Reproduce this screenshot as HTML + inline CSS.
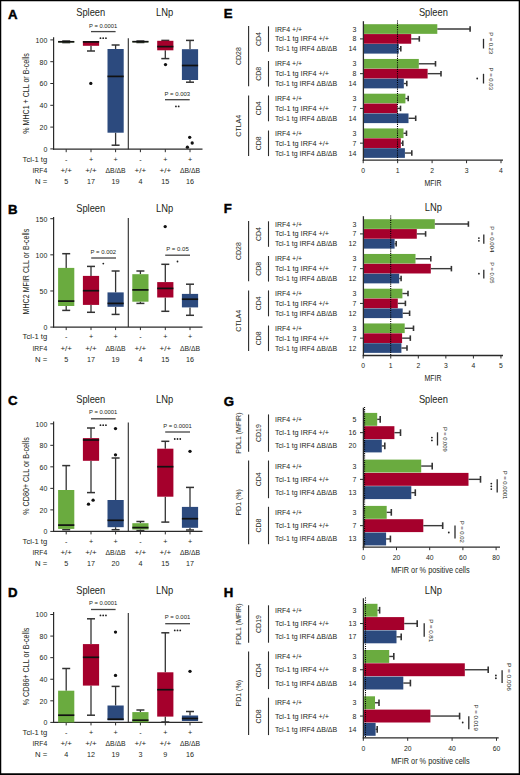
<!DOCTYPE html>
<html><head><meta charset="utf-8"><title>Figure</title>
<style>
html,body{margin:0;padding:0;background:#fff;}
svg{display:block;}
svg text{font-family:"Liberation Sans", sans-serif;}
</style></head>
<body>
<svg width="520" height="775" viewBox="0 0 520 775">
<rect x="0" y="0" width="520" height="775" fill="#fff"/>
<text x="8" y="18.6" font-size="13.2" font-weight="bold" fill="#000" stroke="#000" stroke-width="0.45">A</text>
<text x="90.7" y="16" font-size="10.4" text-anchor="middle" textLength="29" lengthAdjust="spacingAndGlyphs" fill="#231f20">Spleen</text>
<text x="164.6" y="16" font-size="10.4" text-anchor="middle" textLength="17.2" lengthAdjust="spacingAndGlyphs" fill="#231f20">LNp</text>
<line x1="53.6" y1="37.2" x2="53.6" y2="149.7" stroke="#2a2a2a" stroke-width="1.2"/>
<line x1="50.3" y1="148.9" x2="53.6" y2="148.9" stroke="#2a2a2a" stroke-width="1"/>
<text x="47.3" y="151.7" font-size="7" text-anchor="end" fill="#231f20">0</text>
<line x1="50.3" y1="127.1" x2="53.6" y2="127.1" stroke="#2a2a2a" stroke-width="1"/>
<text x="47.3" y="129.9" font-size="7" text-anchor="end" fill="#231f20">20</text>
<line x1="50.3" y1="105.3" x2="53.6" y2="105.3" stroke="#2a2a2a" stroke-width="1"/>
<text x="47.3" y="108.1" font-size="7" text-anchor="end" fill="#231f20">40</text>
<line x1="50.3" y1="83.5" x2="53.6" y2="83.5" stroke="#2a2a2a" stroke-width="1"/>
<text x="47.3" y="86.3" font-size="7" text-anchor="end" fill="#231f20">60</text>
<line x1="50.3" y1="61.7" x2="53.6" y2="61.7" stroke="#2a2a2a" stroke-width="1"/>
<text x="47.3" y="64.5" font-size="7" text-anchor="end" fill="#231f20">80</text>
<line x1="50.3" y1="39.9" x2="53.6" y2="39.9" stroke="#2a2a2a" stroke-width="1"/>
<text x="47.3" y="42.7" font-size="7" text-anchor="end" fill="#231f20">100</text>
<line x1="53" y1="149.2" x2="202.5" y2="149.2" stroke="#2a2a2a" stroke-width="1.2"/>
<line x1="66.2" y1="149.2" x2="66.2" y2="152.2" stroke="#2a2a2a" stroke-width="1"/>
<line x1="91" y1="149.2" x2="91" y2="152.2" stroke="#2a2a2a" stroke-width="1"/>
<line x1="115.6" y1="149.2" x2="115.6" y2="152.2" stroke="#2a2a2a" stroke-width="1"/>
<line x1="140.4" y1="149.2" x2="140.4" y2="152.2" stroke="#2a2a2a" stroke-width="1"/>
<line x1="165.3" y1="149.2" x2="165.3" y2="152.2" stroke="#2a2a2a" stroke-width="1"/>
<line x1="190" y1="149.2" x2="190" y2="152.2" stroke="#2a2a2a" stroke-width="1"/>
<line x1="128.3" y1="38.2" x2="128.3" y2="149.2" stroke="#2a2a2a" stroke-width="1.1"/>
<text x="29.3" y="93.4" font-size="9" text-anchor="middle" textLength="80.6" lengthAdjust="spacingAndGlyphs" fill="#231f20" transform="rotate(-90 29.3 93.4)">% MHC1 + CLL or B-cells</text>
<line x1="66.2" y1="41" x2="66.2" y2="41.3" stroke="#333" stroke-width="1.3"/>
<line x1="62.2" y1="41" x2="70.2" y2="41" stroke="#333" stroke-width="1.5"/>
<line x1="66.2" y1="42.3" x2="66.2" y2="42.6" stroke="#333" stroke-width="1.3"/>
<line x1="62.2" y1="42.6" x2="70.2" y2="42.6" stroke="#333" stroke-width="1.5"/>
<rect x="58.1" y="41.3" width="16.2" height="1" fill="#6aab3f"/>
<line x1="58.1" y1="41.8" x2="74.3" y2="41.8" stroke="#111" stroke-width="1.7"/>
<line x1="91" y1="45.8" x2="91" y2="51" stroke="#333" stroke-width="1.3"/>
<line x1="87" y1="51" x2="95" y2="51" stroke="#333" stroke-width="1.5"/>
<rect x="82.9" y="41" width="16.2" height="4.8" fill="#a5002c"/>
<line x1="82.9" y1="41.9" x2="99.1" y2="41.9" stroke="#111" stroke-width="1.7"/>
<circle cx="90.8" cy="83.4" r="1.65" fill="#111"/>
<line x1="115.6" y1="45" x2="115.6" y2="49" stroke="#333" stroke-width="1.3"/>
<line x1="111.6" y1="45" x2="119.6" y2="45" stroke="#333" stroke-width="1.5"/>
<line x1="115.6" y1="132.7" x2="115.6" y2="145.2" stroke="#333" stroke-width="1.3"/>
<line x1="111.6" y1="145.2" x2="119.6" y2="145.2" stroke="#333" stroke-width="1.5"/>
<rect x="107.5" y="49" width="16.2" height="83.7" fill="#2c4a7e"/>
<line x1="107.5" y1="76.4" x2="123.7" y2="76.4" stroke="#111" stroke-width="1.7"/>
<line x1="140.4" y1="41" x2="140.4" y2="41.2" stroke="#333" stroke-width="1.3"/>
<line x1="136.4" y1="41" x2="144.4" y2="41" stroke="#333" stroke-width="1.5"/>
<line x1="140.4" y1="42.2" x2="140.4" y2="42.5" stroke="#333" stroke-width="1.3"/>
<line x1="136.4" y1="42.5" x2="144.4" y2="42.5" stroke="#333" stroke-width="1.5"/>
<rect x="132.3" y="41.2" width="16.2" height="1" fill="#6aab3f"/>
<line x1="132.3" y1="41.7" x2="148.5" y2="41.7" stroke="#111" stroke-width="1.7"/>
<line x1="165.3" y1="40.4" x2="165.3" y2="40.8" stroke="#333" stroke-width="1.3"/>
<line x1="161.3" y1="40.4" x2="169.3" y2="40.4" stroke="#333" stroke-width="1.5"/>
<line x1="165.3" y1="50.3" x2="165.3" y2="58.6" stroke="#333" stroke-width="1.3"/>
<line x1="161.3" y1="58.6" x2="169.3" y2="58.6" stroke="#333" stroke-width="1.5"/>
<rect x="157.2" y="40.8" width="16.2" height="9.5" fill="#a5002c"/>
<line x1="157.2" y1="46.6" x2="173.4" y2="46.6" stroke="#111" stroke-width="1.7"/>
<circle cx="165.5" cy="64.6" r="1.65" fill="#111"/>
<line x1="190" y1="40.4" x2="190" y2="49.2" stroke="#333" stroke-width="1.3"/>
<line x1="186" y1="40.4" x2="194" y2="40.4" stroke="#333" stroke-width="1.5"/>
<line x1="190" y1="80" x2="190" y2="82.2" stroke="#333" stroke-width="1.3"/>
<line x1="186" y1="82.2" x2="194" y2="82.2" stroke="#333" stroke-width="1.5"/>
<rect x="181.9" y="49.2" width="16.2" height="30.8" fill="#2c4a7e"/>
<line x1="181.9" y1="65.5" x2="198.1" y2="65.5" stroke="#111" stroke-width="1.7"/>
<circle cx="189.7" cy="137.3" r="1.65" fill="#111"/>
<circle cx="192.2" cy="143" r="1.65" fill="#111"/>
<circle cx="187.4" cy="147.2" r="1.65" fill="#111"/>
<text x="103.2" y="27.6" font-size="6" text-anchor="middle" textLength="28.3" lengthAdjust="spacingAndGlyphs" fill="#231f20">P = 0.0001</text>
<line x1="91" y1="31.6" x2="115.6" y2="31.6" stroke="#444" stroke-width="1.3"/>
<circle cx="100.45" cy="38.2" r="0.9" fill="#222"/>
<circle cx="103.2" cy="38.2" r="0.9" fill="#222"/>
<circle cx="105.95" cy="38.2" r="0.9" fill="#222"/>
<text x="177.3" y="95.8" font-size="6" text-anchor="middle" textLength="25.5" lengthAdjust="spacingAndGlyphs" fill="#231f20">P = 0.003</text>
<line x1="165" y1="99.7" x2="189.7" y2="99.7" stroke="#444" stroke-width="1.3"/>
<circle cx="175.93" cy="106.4" r="0.9" fill="#222"/>
<circle cx="178.68" cy="106.4" r="0.9" fill="#222"/>
<text x="47.2" y="161.5" font-size="7.2" text-anchor="end" textLength="24.6" lengthAdjust="spacingAndGlyphs" fill="#231f20">Tcl-1 tg</text>
<text x="47.2" y="172.9" font-size="7.2" text-anchor="end" textLength="14.8" lengthAdjust="spacingAndGlyphs" fill="#231f20">IRF4</text>
<text x="47.2" y="184.1" font-size="7.2" text-anchor="end" textLength="12.3" lengthAdjust="spacingAndGlyphs" fill="#231f20">N =</text>
<text x="66.2" y="161.5" font-size="7.2" text-anchor="middle" fill="#231f20">-</text>
<text x="66.2" y="172.9" font-size="7.2" text-anchor="middle" textLength="11.6" lengthAdjust="spacingAndGlyphs" fill="#231f20">+/+</text>
<text x="66.2" y="184.1" font-size="7.2" text-anchor="middle" fill="#231f20">5</text>
<text x="91" y="161.5" font-size="7.2" text-anchor="middle" fill="#231f20">+</text>
<text x="91" y="172.9" font-size="7.2" text-anchor="middle" textLength="11.6" lengthAdjust="spacingAndGlyphs" fill="#231f20">+/+</text>
<text x="91" y="184.1" font-size="7.2" text-anchor="middle" fill="#231f20">17</text>
<text x="115.6" y="161.5" font-size="7.2" text-anchor="middle" fill="#231f20">+</text>
<text x="115.6" y="172.9" font-size="7.2" text-anchor="middle" textLength="20.1" lengthAdjust="spacingAndGlyphs" fill="#231f20">ΔB/ΔB</text>
<text x="115.6" y="184.1" font-size="7.2" text-anchor="middle" fill="#231f20">19</text>
<text x="140.4" y="161.5" font-size="7.2" text-anchor="middle" fill="#231f20">-</text>
<text x="140.4" y="172.9" font-size="7.2" text-anchor="middle" textLength="11.6" lengthAdjust="spacingAndGlyphs" fill="#231f20">+/+</text>
<text x="140.4" y="184.1" font-size="7.2" text-anchor="middle" fill="#231f20">4</text>
<text x="165.3" y="161.5" font-size="7.2" text-anchor="middle" fill="#231f20">+</text>
<text x="165.3" y="172.9" font-size="7.2" text-anchor="middle" textLength="11.6" lengthAdjust="spacingAndGlyphs" fill="#231f20">+/+</text>
<text x="165.3" y="184.1" font-size="7.2" text-anchor="middle" fill="#231f20">15</text>
<text x="190" y="161.5" font-size="7.2" text-anchor="middle" fill="#231f20">+</text>
<text x="190" y="172.9" font-size="7.2" text-anchor="middle" textLength="20.1" lengthAdjust="spacingAndGlyphs" fill="#231f20">ΔB/ΔB</text>
<text x="190" y="184.1" font-size="7.2" text-anchor="middle" fill="#231f20">16</text>
<text x="8" y="214.1" font-size="13.2" font-weight="bold" fill="#000" stroke="#000" stroke-width="0.45">B</text>
<text x="90.7" y="211.5" font-size="10.4" text-anchor="middle" textLength="29" lengthAdjust="spacingAndGlyphs" fill="#231f20">Spleen</text>
<text x="164.6" y="211.5" font-size="10.4" text-anchor="middle" textLength="17.2" lengthAdjust="spacingAndGlyphs" fill="#231f20">LNp</text>
<line x1="53.6" y1="217" x2="53.6" y2="327.6" stroke="#2a2a2a" stroke-width="1.2"/>
<line x1="50.3" y1="327.1" x2="53.6" y2="327.1" stroke="#2a2a2a" stroke-width="1"/>
<text x="47.3" y="329.9" font-size="7" text-anchor="end" fill="#231f20">0</text>
<line x1="50.3" y1="290.97" x2="53.6" y2="290.97" stroke="#2a2a2a" stroke-width="1"/>
<text x="47.3" y="293.77" font-size="7" text-anchor="end" fill="#231f20">50</text>
<line x1="50.3" y1="254.84" x2="53.6" y2="254.84" stroke="#2a2a2a" stroke-width="1"/>
<text x="47.3" y="257.64" font-size="7" text-anchor="end" fill="#231f20">100</text>
<line x1="50.3" y1="218.71" x2="53.6" y2="218.71" stroke="#2a2a2a" stroke-width="1"/>
<text x="47.3" y="221.51" font-size="7" text-anchor="end" fill="#231f20">150</text>
<line x1="53" y1="327.1" x2="202.5" y2="327.1" stroke="#2a2a2a" stroke-width="1.2"/>
<line x1="66.2" y1="327.1" x2="66.2" y2="330.1" stroke="#2a2a2a" stroke-width="1"/>
<line x1="91" y1="327.1" x2="91" y2="330.1" stroke="#2a2a2a" stroke-width="1"/>
<line x1="115.6" y1="327.1" x2="115.6" y2="330.1" stroke="#2a2a2a" stroke-width="1"/>
<line x1="140.4" y1="327.1" x2="140.4" y2="330.1" stroke="#2a2a2a" stroke-width="1"/>
<line x1="165.3" y1="327.1" x2="165.3" y2="330.1" stroke="#2a2a2a" stroke-width="1"/>
<line x1="190" y1="327.1" x2="190" y2="330.1" stroke="#2a2a2a" stroke-width="1"/>
<line x1="128.3" y1="218" x2="128.3" y2="327.1" stroke="#2a2a2a" stroke-width="1.1"/>
<text x="29.3" y="271.6" font-size="9" text-anchor="middle" textLength="85.6" lengthAdjust="spacingAndGlyphs" fill="#231f20" transform="rotate(-90 29.3 271.6)">MHC2 MFIR CLL or B-cells</text>
<line x1="66.2" y1="253.7" x2="66.2" y2="267.9" stroke="#333" stroke-width="1.3"/>
<line x1="62.2" y1="253.7" x2="70.2" y2="253.7" stroke="#333" stroke-width="1.5"/>
<line x1="66.2" y1="306" x2="66.2" y2="310.4" stroke="#333" stroke-width="1.3"/>
<line x1="62.2" y1="310.4" x2="70.2" y2="310.4" stroke="#333" stroke-width="1.5"/>
<rect x="58.1" y="267.9" width="16.2" height="38.1" fill="#6aab3f"/>
<line x1="58.1" y1="301.1" x2="74.3" y2="301.1" stroke="#111" stroke-width="1.7"/>
<line x1="91" y1="266.4" x2="91" y2="275.9" stroke="#333" stroke-width="1.3"/>
<line x1="87" y1="266.4" x2="95" y2="266.4" stroke="#333" stroke-width="1.5"/>
<line x1="91" y1="304.9" x2="91" y2="312.3" stroke="#333" stroke-width="1.3"/>
<line x1="87" y1="312.3" x2="95" y2="312.3" stroke="#333" stroke-width="1.5"/>
<rect x="82.9" y="275.9" width="16.2" height="29" fill="#a5002c"/>
<line x1="82.9" y1="290.7" x2="99.1" y2="290.7" stroke="#111" stroke-width="1.7"/>
<line x1="115.6" y1="271" x2="115.6" y2="292.4" stroke="#333" stroke-width="1.3"/>
<line x1="111.6" y1="271" x2="119.6" y2="271" stroke="#333" stroke-width="1.5"/>
<line x1="115.6" y1="306.8" x2="115.6" y2="314.4" stroke="#333" stroke-width="1.3"/>
<line x1="111.6" y1="314.4" x2="119.6" y2="314.4" stroke="#333" stroke-width="1.5"/>
<rect x="107.5" y="292.4" width="16.2" height="14.4" fill="#2c4a7e"/>
<line x1="107.5" y1="303.4" x2="123.7" y2="303.4" stroke="#111" stroke-width="1.7"/>
<line x1="140.4" y1="271" x2="140.4" y2="274.2" stroke="#333" stroke-width="1.3"/>
<line x1="136.4" y1="271" x2="144.4" y2="271" stroke="#333" stroke-width="1.5"/>
<line x1="140.4" y1="301.7" x2="140.4" y2="303.4" stroke="#333" stroke-width="1.3"/>
<line x1="136.4" y1="303.4" x2="144.4" y2="303.4" stroke="#333" stroke-width="1.5"/>
<rect x="132.3" y="274.2" width="16.2" height="27.5" fill="#6aab3f"/>
<line x1="132.3" y1="289.9" x2="148.5" y2="289.9" stroke="#111" stroke-width="1.7"/>
<line x1="165.3" y1="264.3" x2="165.3" y2="282.1" stroke="#333" stroke-width="1.3"/>
<line x1="161.3" y1="264.3" x2="169.3" y2="264.3" stroke="#333" stroke-width="1.5"/>
<line x1="165.3" y1="297.5" x2="165.3" y2="311.3" stroke="#333" stroke-width="1.3"/>
<line x1="161.3" y1="311.3" x2="169.3" y2="311.3" stroke="#333" stroke-width="1.5"/>
<rect x="157.2" y="282.1" width="16.2" height="15.4" fill="#a5002c"/>
<line x1="157.2" y1="288.4" x2="173.4" y2="288.4" stroke="#111" stroke-width="1.7"/>
<circle cx="165.2" cy="226.6" r="1.65" fill="#111"/>
<line x1="190" y1="284.2" x2="190" y2="293.9" stroke="#333" stroke-width="1.3"/>
<line x1="186" y1="284.2" x2="194" y2="284.2" stroke="#333" stroke-width="1.5"/>
<line x1="190" y1="307.4" x2="190" y2="315.3" stroke="#333" stroke-width="1.3"/>
<line x1="186" y1="315.3" x2="194" y2="315.3" stroke="#333" stroke-width="1.5"/>
<rect x="181.9" y="293.9" width="16.2" height="13.5" fill="#2c4a7e"/>
<line x1="181.9" y1="299.2" x2="198.1" y2="299.2" stroke="#111" stroke-width="1.7"/>
<text x="103.3" y="253.5" font-size="6" text-anchor="middle" textLength="25.5" lengthAdjust="spacingAndGlyphs" fill="#231f20">P = 0.002</text>
<line x1="91.2" y1="258" x2="116" y2="258" stroke="#444" stroke-width="1.3"/>
<circle cx="103.3" cy="263.6" r="0.9" fill="#222"/>
<text x="177.5" y="251" font-size="6" text-anchor="middle" textLength="22.5" lengthAdjust="spacingAndGlyphs" fill="#231f20">P = 0.05</text>
<line x1="165.2" y1="255.2" x2="190" y2="255.2" stroke="#444" stroke-width="1.3"/>
<circle cx="177.5" cy="261.5" r="0.9" fill="#222"/>
<text x="47.2" y="339.4" font-size="7.2" text-anchor="end" textLength="24.6" lengthAdjust="spacingAndGlyphs" fill="#231f20">Tcl-1 tg</text>
<text x="47.2" y="350.8" font-size="7.2" text-anchor="end" textLength="14.8" lengthAdjust="spacingAndGlyphs" fill="#231f20">IRF4</text>
<text x="47.2" y="362" font-size="7.2" text-anchor="end" textLength="12.3" lengthAdjust="spacingAndGlyphs" fill="#231f20">N =</text>
<text x="66.2" y="339.4" font-size="7.2" text-anchor="middle" fill="#231f20">-</text>
<text x="66.2" y="350.8" font-size="7.2" text-anchor="middle" textLength="11.6" lengthAdjust="spacingAndGlyphs" fill="#231f20">+/+</text>
<text x="66.2" y="362" font-size="7.2" text-anchor="middle" fill="#231f20">5</text>
<text x="91" y="339.4" font-size="7.2" text-anchor="middle" fill="#231f20">+</text>
<text x="91" y="350.8" font-size="7.2" text-anchor="middle" textLength="11.6" lengthAdjust="spacingAndGlyphs" fill="#231f20">+/+</text>
<text x="91" y="362" font-size="7.2" text-anchor="middle" fill="#231f20">17</text>
<text x="115.6" y="339.4" font-size="7.2" text-anchor="middle" fill="#231f20">+</text>
<text x="115.6" y="350.8" font-size="7.2" text-anchor="middle" textLength="20.1" lengthAdjust="spacingAndGlyphs" fill="#231f20">ΔB/ΔB</text>
<text x="115.6" y="362" font-size="7.2" text-anchor="middle" fill="#231f20">19</text>
<text x="140.4" y="339.4" font-size="7.2" text-anchor="middle" fill="#231f20">-</text>
<text x="140.4" y="350.8" font-size="7.2" text-anchor="middle" textLength="11.6" lengthAdjust="spacingAndGlyphs" fill="#231f20">+/+</text>
<text x="140.4" y="362" font-size="7.2" text-anchor="middle" fill="#231f20">4</text>
<text x="165.3" y="339.4" font-size="7.2" text-anchor="middle" fill="#231f20">+</text>
<text x="165.3" y="350.8" font-size="7.2" text-anchor="middle" textLength="11.6" lengthAdjust="spacingAndGlyphs" fill="#231f20">+/+</text>
<text x="165.3" y="362" font-size="7.2" text-anchor="middle" fill="#231f20">15</text>
<text x="190" y="339.4" font-size="7.2" text-anchor="middle" fill="#231f20">+</text>
<text x="190" y="350.8" font-size="7.2" text-anchor="middle" textLength="20.1" lengthAdjust="spacingAndGlyphs" fill="#231f20">ΔB/ΔB</text>
<text x="190" y="362" font-size="7.2" text-anchor="middle" fill="#231f20">16</text>
<text x="8" y="405.35" font-size="13.2" font-weight="bold" fill="#000" stroke="#000" stroke-width="0.45">C</text>
<text x="90.7" y="402.75" font-size="10.4" text-anchor="middle" textLength="29" lengthAdjust="spacingAndGlyphs" fill="#231f20">Spleen</text>
<text x="164.6" y="402.75" font-size="10.4" text-anchor="middle" textLength="17.2" lengthAdjust="spacingAndGlyphs" fill="#231f20">LNp</text>
<line x1="53.6" y1="421.5" x2="53.6" y2="531.9" stroke="#2a2a2a" stroke-width="1.2"/>
<line x1="50.3" y1="531.4" x2="53.6" y2="531.4" stroke="#2a2a2a" stroke-width="1"/>
<text x="47.3" y="534.2" font-size="7" text-anchor="end" fill="#231f20">0</text>
<line x1="50.3" y1="509.88" x2="53.6" y2="509.88" stroke="#2a2a2a" stroke-width="1"/>
<text x="47.3" y="512.68" font-size="7" text-anchor="end" fill="#231f20">20</text>
<line x1="50.3" y1="488.36" x2="53.6" y2="488.36" stroke="#2a2a2a" stroke-width="1"/>
<text x="47.3" y="491.16" font-size="7" text-anchor="end" fill="#231f20">40</text>
<line x1="50.3" y1="466.84" x2="53.6" y2="466.84" stroke="#2a2a2a" stroke-width="1"/>
<text x="47.3" y="469.64" font-size="7" text-anchor="end" fill="#231f20">60</text>
<line x1="50.3" y1="445.32" x2="53.6" y2="445.32" stroke="#2a2a2a" stroke-width="1"/>
<text x="47.3" y="448.12" font-size="7" text-anchor="end" fill="#231f20">80</text>
<line x1="50.3" y1="423.8" x2="53.6" y2="423.8" stroke="#2a2a2a" stroke-width="1"/>
<text x="47.3" y="426.6" font-size="7" text-anchor="end" fill="#231f20">100</text>
<line x1="53" y1="531.4" x2="202.5" y2="531.4" stroke="#2a2a2a" stroke-width="1.2"/>
<line x1="66.2" y1="531.4" x2="66.2" y2="534.4" stroke="#2a2a2a" stroke-width="1"/>
<line x1="91" y1="531.4" x2="91" y2="534.4" stroke="#2a2a2a" stroke-width="1"/>
<line x1="115.6" y1="531.4" x2="115.6" y2="534.4" stroke="#2a2a2a" stroke-width="1"/>
<line x1="140.4" y1="531.4" x2="140.4" y2="534.4" stroke="#2a2a2a" stroke-width="1"/>
<line x1="165.3" y1="531.4" x2="165.3" y2="534.4" stroke="#2a2a2a" stroke-width="1"/>
<line x1="190" y1="531.4" x2="190" y2="534.4" stroke="#2a2a2a" stroke-width="1"/>
<line x1="128.3" y1="422.5" x2="128.3" y2="531.4" stroke="#2a2a2a" stroke-width="1.1"/>
<text x="29.3" y="476" font-size="9" text-anchor="middle" textLength="77.5" lengthAdjust="spacingAndGlyphs" fill="#231f20" transform="rotate(-90 29.3 476)">% CD80+ CLL or B-cells</text>
<line x1="66.2" y1="465.6" x2="66.2" y2="490" stroke="#333" stroke-width="1.3"/>
<line x1="62.2" y1="465.6" x2="70.2" y2="465.6" stroke="#333" stroke-width="1.5"/>
<line x1="66.2" y1="528.9" x2="66.2" y2="529.7" stroke="#333" stroke-width="1.3"/>
<line x1="62.2" y1="529.7" x2="70.2" y2="529.7" stroke="#333" stroke-width="1.5"/>
<rect x="58.1" y="490" width="16.2" height="38.9" fill="#6aab3f"/>
<line x1="58.1" y1="525.1" x2="74.3" y2="525.1" stroke="#111" stroke-width="1.7"/>
<line x1="91" y1="428" x2="91" y2="438.1" stroke="#333" stroke-width="1.3"/>
<line x1="87" y1="428" x2="95" y2="428" stroke="#333" stroke-width="1.5"/>
<line x1="91" y1="460.8" x2="91" y2="492.6" stroke="#333" stroke-width="1.3"/>
<line x1="87" y1="492.6" x2="95" y2="492.6" stroke="#333" stroke-width="1.5"/>
<rect x="82.9" y="438.1" width="16.2" height="22.7" fill="#a5002c"/>
<line x1="82.9" y1="440" x2="99.1" y2="440" stroke="#111" stroke-width="1.7"/>
<circle cx="88.5" cy="504.2" r="1.65" fill="#111"/>
<circle cx="93.1" cy="500.2" r="1.65" fill="#111"/>
<line x1="115.6" y1="458" x2="115.6" y2="500" stroke="#333" stroke-width="1.3"/>
<line x1="111.6" y1="458" x2="119.6" y2="458" stroke="#333" stroke-width="1.5"/>
<line x1="115.6" y1="527.2" x2="115.6" y2="529.7" stroke="#333" stroke-width="1.3"/>
<line x1="111.6" y1="529.7" x2="119.6" y2="529.7" stroke="#333" stroke-width="1.5"/>
<rect x="107.5" y="500" width="16.2" height="27.2" fill="#2c4a7e"/>
<line x1="107.5" y1="520.3" x2="123.7" y2="520.3" stroke="#111" stroke-width="1.7"/>
<circle cx="115.5" cy="428.6" r="1.65" fill="#111"/>
<circle cx="115.5" cy="454.8" r="1.65" fill="#111"/>
<line x1="140.4" y1="521.5" x2="140.4" y2="523.2" stroke="#333" stroke-width="1.3"/>
<line x1="136.4" y1="521.5" x2="144.4" y2="521.5" stroke="#333" stroke-width="1.5"/>
<line x1="140.4" y1="529.5" x2="140.4" y2="530.5" stroke="#333" stroke-width="1.3"/>
<line x1="136.4" y1="530.5" x2="144.4" y2="530.5" stroke="#333" stroke-width="1.5"/>
<rect x="132.3" y="523.2" width="16.2" height="6.3" fill="#6aab3f"/>
<line x1="132.3" y1="527.6" x2="148.5" y2="527.6" stroke="#111" stroke-width="1.7"/>
<line x1="165.3" y1="441.3" x2="165.3" y2="448.7" stroke="#333" stroke-width="1.3"/>
<line x1="161.3" y1="441.3" x2="169.3" y2="441.3" stroke="#333" stroke-width="1.5"/>
<line x1="165.3" y1="496.7" x2="165.3" y2="522.1" stroke="#333" stroke-width="1.3"/>
<line x1="161.3" y1="522.1" x2="169.3" y2="522.1" stroke="#333" stroke-width="1.5"/>
<rect x="157.2" y="448.7" width="16.2" height="48" fill="#a5002c"/>
<line x1="157.2" y1="466.7" x2="173.4" y2="466.7" stroke="#111" stroke-width="1.7"/>
<line x1="190" y1="487.4" x2="190" y2="506.9" stroke="#333" stroke-width="1.3"/>
<line x1="186" y1="487.4" x2="194" y2="487.4" stroke="#333" stroke-width="1.5"/>
<line x1="190" y1="527.8" x2="190" y2="530" stroke="#333" stroke-width="1.3"/>
<line x1="186" y1="530" x2="194" y2="530" stroke="#333" stroke-width="1.5"/>
<rect x="181.9" y="506.9" width="16.2" height="20.9" fill="#2c4a7e"/>
<line x1="181.9" y1="518.7" x2="198.1" y2="518.7" stroke="#111" stroke-width="1.7"/>
<circle cx="190" cy="451.3" r="1.65" fill="#111"/>
<text x="103.2" y="414.1" font-size="6" text-anchor="middle" textLength="28.3" lengthAdjust="spacingAndGlyphs" fill="#231f20">P = 0.0001</text>
<line x1="91" y1="418.8" x2="115.6" y2="418.8" stroke="#444" stroke-width="1.3"/>
<circle cx="100.45" cy="425.2" r="0.9" fill="#222"/>
<circle cx="103.2" cy="425.2" r="0.9" fill="#222"/>
<circle cx="105.95" cy="425.2" r="0.9" fill="#222"/>
<text x="177.5" y="427.8" font-size="6" text-anchor="middle" textLength="28.3" lengthAdjust="spacingAndGlyphs" fill="#231f20">P = 0.0001</text>
<line x1="165.2" y1="432" x2="190" y2="432" stroke="#444" stroke-width="1.3"/>
<circle cx="174.75" cy="439" r="0.9" fill="#222"/>
<circle cx="177.5" cy="439" r="0.9" fill="#222"/>
<circle cx="180.25" cy="439" r="0.9" fill="#222"/>
<text x="47.2" y="543.7" font-size="7.2" text-anchor="end" textLength="24.6" lengthAdjust="spacingAndGlyphs" fill="#231f20">Tcl-1 tg</text>
<text x="47.2" y="555.1" font-size="7.2" text-anchor="end" textLength="14.8" lengthAdjust="spacingAndGlyphs" fill="#231f20">IRF4</text>
<text x="47.2" y="566.3" font-size="7.2" text-anchor="end" textLength="12.3" lengthAdjust="spacingAndGlyphs" fill="#231f20">N =</text>
<text x="66.2" y="543.7" font-size="7.2" text-anchor="middle" fill="#231f20">-</text>
<text x="66.2" y="555.1" font-size="7.2" text-anchor="middle" textLength="11.6" lengthAdjust="spacingAndGlyphs" fill="#231f20">+/+</text>
<text x="66.2" y="566.3" font-size="7.2" text-anchor="middle" fill="#231f20">5</text>
<text x="91" y="543.7" font-size="7.2" text-anchor="middle" fill="#231f20">+</text>
<text x="91" y="555.1" font-size="7.2" text-anchor="middle" textLength="11.6" lengthAdjust="spacingAndGlyphs" fill="#231f20">+/+</text>
<text x="91" y="566.3" font-size="7.2" text-anchor="middle" fill="#231f20">17</text>
<text x="115.6" y="543.7" font-size="7.2" text-anchor="middle" fill="#231f20">+</text>
<text x="115.6" y="555.1" font-size="7.2" text-anchor="middle" textLength="20.1" lengthAdjust="spacingAndGlyphs" fill="#231f20">ΔB/ΔB</text>
<text x="115.6" y="566.3" font-size="7.2" text-anchor="middle" fill="#231f20">20</text>
<text x="140.4" y="543.7" font-size="7.2" text-anchor="middle" fill="#231f20">-</text>
<text x="140.4" y="555.1" font-size="7.2" text-anchor="middle" textLength="11.6" lengthAdjust="spacingAndGlyphs" fill="#231f20">+/+</text>
<text x="140.4" y="566.3" font-size="7.2" text-anchor="middle" fill="#231f20">4</text>
<text x="165.3" y="543.7" font-size="7.2" text-anchor="middle" fill="#231f20">+</text>
<text x="165.3" y="555.1" font-size="7.2" text-anchor="middle" textLength="11.6" lengthAdjust="spacingAndGlyphs" fill="#231f20">+/+</text>
<text x="165.3" y="566.3" font-size="7.2" text-anchor="middle" fill="#231f20">15</text>
<text x="190" y="543.7" font-size="7.2" text-anchor="middle" fill="#231f20">+</text>
<text x="190" y="555.1" font-size="7.2" text-anchor="middle" textLength="20.1" lengthAdjust="spacingAndGlyphs" fill="#231f20">ΔB/ΔB</text>
<text x="190" y="566.3" font-size="7.2" text-anchor="middle" fill="#231f20">17</text>
<text x="8" y="596.6" font-size="13.2" font-weight="bold" fill="#000" stroke="#000" stroke-width="0.45">D</text>
<text x="90.7" y="594" font-size="10.4" text-anchor="middle" textLength="29" lengthAdjust="spacingAndGlyphs" fill="#231f20">Spleen</text>
<text x="164.6" y="594" font-size="10.4" text-anchor="middle" textLength="17.2" lengthAdjust="spacingAndGlyphs" fill="#231f20">LNp</text>
<line x1="53.6" y1="612" x2="53.6" y2="722.9" stroke="#2a2a2a" stroke-width="1.2"/>
<line x1="50.3" y1="722.4" x2="53.6" y2="722.4" stroke="#2a2a2a" stroke-width="1"/>
<text x="47.3" y="725.2" font-size="7" text-anchor="end" fill="#231f20">0</text>
<line x1="50.3" y1="700.82" x2="53.6" y2="700.82" stroke="#2a2a2a" stroke-width="1"/>
<text x="47.3" y="703.62" font-size="7" text-anchor="end" fill="#231f20">20</text>
<line x1="50.3" y1="679.24" x2="53.6" y2="679.24" stroke="#2a2a2a" stroke-width="1"/>
<text x="47.3" y="682.04" font-size="7" text-anchor="end" fill="#231f20">40</text>
<line x1="50.3" y1="657.66" x2="53.6" y2="657.66" stroke="#2a2a2a" stroke-width="1"/>
<text x="47.3" y="660.46" font-size="7" text-anchor="end" fill="#231f20">60</text>
<line x1="50.3" y1="636.08" x2="53.6" y2="636.08" stroke="#2a2a2a" stroke-width="1"/>
<text x="47.3" y="638.88" font-size="7" text-anchor="end" fill="#231f20">80</text>
<line x1="50.3" y1="614.5" x2="53.6" y2="614.5" stroke="#2a2a2a" stroke-width="1"/>
<text x="47.3" y="617.3" font-size="7" text-anchor="end" fill="#231f20">100</text>
<line x1="53" y1="722.4" x2="202.5" y2="722.4" stroke="#2a2a2a" stroke-width="1.2"/>
<line x1="66.2" y1="722.4" x2="66.2" y2="725.4" stroke="#2a2a2a" stroke-width="1"/>
<line x1="91" y1="722.4" x2="91" y2="725.4" stroke="#2a2a2a" stroke-width="1"/>
<line x1="115.6" y1="722.4" x2="115.6" y2="725.4" stroke="#2a2a2a" stroke-width="1"/>
<line x1="140.4" y1="722.4" x2="140.4" y2="725.4" stroke="#2a2a2a" stroke-width="1"/>
<line x1="165.3" y1="722.4" x2="165.3" y2="725.4" stroke="#2a2a2a" stroke-width="1"/>
<line x1="190" y1="722.4" x2="190" y2="725.4" stroke="#2a2a2a" stroke-width="1"/>
<line x1="128.3" y1="613" x2="128.3" y2="722.4" stroke="#2a2a2a" stroke-width="1.1"/>
<text x="29.3" y="666.5" font-size="9" text-anchor="middle" textLength="77.7" lengthAdjust="spacingAndGlyphs" fill="#231f20" transform="rotate(-90 29.3 666.5)">% CD86+ CLL or B-cells</text>
<line x1="66.2" y1="668.5" x2="66.2" y2="690.7" stroke="#333" stroke-width="1.3"/>
<line x1="62.2" y1="668.5" x2="70.2" y2="668.5" stroke="#333" stroke-width="1.5"/>
<rect x="58.1" y="690.7" width="16.2" height="31.7" fill="#6aab3f"/>
<line x1="58.1" y1="715.2" x2="74.3" y2="715.2" stroke="#111" stroke-width="1.7"/>
<line x1="91" y1="618.8" x2="91" y2="644.1" stroke="#333" stroke-width="1.3"/>
<line x1="87" y1="618.8" x2="95" y2="618.8" stroke="#333" stroke-width="1.5"/>
<line x1="91" y1="685.6" x2="91" y2="715.2" stroke="#333" stroke-width="1.3"/>
<line x1="87" y1="715.2" x2="95" y2="715.2" stroke="#333" stroke-width="1.5"/>
<rect x="82.9" y="644.1" width="16.2" height="41.5" fill="#a5002c"/>
<line x1="82.9" y1="657.3" x2="99.1" y2="657.3" stroke="#111" stroke-width="1.7"/>
<line x1="115.6" y1="686.4" x2="115.6" y2="705.5" stroke="#333" stroke-width="1.3"/>
<line x1="111.6" y1="686.4" x2="119.6" y2="686.4" stroke="#333" stroke-width="1.5"/>
<rect x="107.5" y="705.5" width="16.2" height="14.8" fill="#2c4a7e"/>
<line x1="107.5" y1="719.2" x2="123.7" y2="719.2" stroke="#111" stroke-width="1.7"/>
<circle cx="115.5" cy="632.1" r="1.65" fill="#111"/>
<circle cx="115.5" cy="675.4" r="1.65" fill="#111"/>
<line x1="140.4" y1="710" x2="140.4" y2="712.1" stroke="#333" stroke-width="1.3"/>
<line x1="136.4" y1="710" x2="144.4" y2="710" stroke="#333" stroke-width="1.5"/>
<rect x="132.3" y="712.1" width="16.2" height="10.3" fill="#6aab3f"/>
<line x1="132.3" y1="720.2" x2="148.5" y2="720.2" stroke="#111" stroke-width="1.7"/>
<line x1="165.3" y1="632.8" x2="165.3" y2="672.3" stroke="#333" stroke-width="1.3"/>
<line x1="161.3" y1="632.8" x2="169.3" y2="632.8" stroke="#333" stroke-width="1.5"/>
<line x1="165.3" y1="716.6" x2="165.3" y2="722" stroke="#333" stroke-width="1.3"/>
<line x1="161.3" y1="722" x2="169.3" y2="722" stroke="#333" stroke-width="1.5"/>
<rect x="157.2" y="672.3" width="16.2" height="44.3" fill="#a5002c"/>
<line x1="157.2" y1="689.7" x2="173.4" y2="689.7" stroke="#111" stroke-width="1.7"/>
<line x1="190" y1="711.5" x2="190" y2="715.5" stroke="#333" stroke-width="1.3"/>
<line x1="186" y1="711.5" x2="194" y2="711.5" stroke="#333" stroke-width="1.5"/>
<rect x="181.9" y="715.5" width="16.2" height="5.5" fill="#2c4a7e"/>
<line x1="181.9" y1="718.5" x2="198.1" y2="718.5" stroke="#111" stroke-width="1.7"/>
<circle cx="190" cy="671.3" r="1.65" fill="#111"/>
<text x="103.2" y="605" font-size="6" text-anchor="middle" textLength="28.3" lengthAdjust="spacingAndGlyphs" fill="#231f20">P = 0.0001</text>
<line x1="91" y1="609.5" x2="115.6" y2="609.5" stroke="#444" stroke-width="1.3"/>
<circle cx="100.45" cy="615.4" r="0.9" fill="#222"/>
<circle cx="103.2" cy="615.4" r="0.9" fill="#222"/>
<circle cx="105.95" cy="615.4" r="0.9" fill="#222"/>
<text x="177.5" y="619.1" font-size="6" text-anchor="middle" textLength="25.5" lengthAdjust="spacingAndGlyphs" fill="#231f20">P = 0.001</text>
<line x1="165.2" y1="623.7" x2="190" y2="623.7" stroke="#444" stroke-width="1.3"/>
<circle cx="174.75" cy="630.4" r="0.9" fill="#222"/>
<circle cx="177.5" cy="630.4" r="0.9" fill="#222"/>
<circle cx="180.25" cy="630.4" r="0.9" fill="#222"/>
<text x="47.2" y="734.7" font-size="7.2" text-anchor="end" textLength="24.6" lengthAdjust="spacingAndGlyphs" fill="#231f20">Tcl-1 tg</text>
<text x="47.2" y="746.1" font-size="7.2" text-anchor="end" textLength="14.8" lengthAdjust="spacingAndGlyphs" fill="#231f20">IRF4</text>
<text x="47.2" y="757.3" font-size="7.2" text-anchor="end" textLength="12.3" lengthAdjust="spacingAndGlyphs" fill="#231f20">N =</text>
<text x="66.2" y="734.7" font-size="7.2" text-anchor="middle" fill="#231f20">-</text>
<text x="66.2" y="746.1" font-size="7.2" text-anchor="middle" textLength="11.6" lengthAdjust="spacingAndGlyphs" fill="#231f20">+/+</text>
<text x="66.2" y="757.3" font-size="7.2" text-anchor="middle" fill="#231f20">4</text>
<text x="91" y="734.7" font-size="7.2" text-anchor="middle" fill="#231f20">+</text>
<text x="91" y="746.1" font-size="7.2" text-anchor="middle" textLength="11.6" lengthAdjust="spacingAndGlyphs" fill="#231f20">+/+</text>
<text x="91" y="757.3" font-size="7.2" text-anchor="middle" fill="#231f20">12</text>
<text x="115.6" y="734.7" font-size="7.2" text-anchor="middle" fill="#231f20">+</text>
<text x="115.6" y="746.1" font-size="7.2" text-anchor="middle" textLength="20.1" lengthAdjust="spacingAndGlyphs" fill="#231f20">ΔB/ΔB</text>
<text x="115.6" y="757.3" font-size="7.2" text-anchor="middle" fill="#231f20">19</text>
<text x="140.4" y="734.7" font-size="7.2" text-anchor="middle" fill="#231f20">-</text>
<text x="140.4" y="746.1" font-size="7.2" text-anchor="middle" textLength="11.6" lengthAdjust="spacingAndGlyphs" fill="#231f20">+/+</text>
<text x="140.4" y="757.3" font-size="7.2" text-anchor="middle" fill="#231f20">3</text>
<text x="165.3" y="734.7" font-size="7.2" text-anchor="middle" fill="#231f20">+</text>
<text x="165.3" y="746.1" font-size="7.2" text-anchor="middle" textLength="11.6" lengthAdjust="spacingAndGlyphs" fill="#231f20">+/+</text>
<text x="165.3" y="757.3" font-size="7.2" text-anchor="middle" fill="#231f20">9</text>
<text x="190" y="734.7" font-size="7.2" text-anchor="middle" fill="#231f20">+</text>
<text x="190" y="746.1" font-size="7.2" text-anchor="middle" textLength="20.1" lengthAdjust="spacingAndGlyphs" fill="#231f20">ΔB/ΔB</text>
<text x="190" y="757.3" font-size="7.2" text-anchor="middle" fill="#231f20">16</text>
<text x="223.8" y="18.4" font-size="13.2" font-weight="bold" fill="#000" stroke="#000" stroke-width="0.45">E</text>
<text x="433.4" y="15.8" font-size="10.4" text-anchor="middle" textLength="29" lengthAdjust="spacingAndGlyphs" fill="#231f20">Spleen</text>
<rect x="363.4" y="24.2" width="73.9" height="9.65" fill="#6aab3f"/>
<line x1="437.3" y1="29.02" x2="470.1" y2="29.02" stroke="#3a3a3a" stroke-width="1.4"/>
<line x1="470.1" y1="26.27" x2="470.1" y2="31.77" stroke="#333" stroke-width="1.6"/>
<text x="275" y="31.52" font-size="6.9" textLength="27.2" lengthAdjust="spacingAndGlyphs" fill="#231f20">IRF4 +/+</text>
<text x="356.3" y="31.52" font-size="7" text-anchor="end" fill="#231f20">3</text>
<rect x="363.4" y="34.08" width="47.8" height="9.65" fill="#a5002c"/>
<line x1="411.2" y1="38.91" x2="419.3" y2="38.91" stroke="#3a3a3a" stroke-width="1.4"/>
<line x1="419.3" y1="36.16" x2="419.3" y2="41.66" stroke="#333" stroke-width="1.6"/>
<text x="275" y="41.41" font-size="6.9" textLength="54.1" lengthAdjust="spacingAndGlyphs" fill="#231f20">Tcl-1 tg IRF4 +/+</text>
<text x="356.3" y="41.41" font-size="7" text-anchor="end" fill="#231f20">8</text>
<rect x="363.4" y="43.96" width="35.4" height="9.65" fill="#2c4a7e"/>
<line x1="398.8" y1="48.79" x2="400.8" y2="48.79" stroke="#3a3a3a" stroke-width="1.4"/>
<line x1="400.8" y1="46.04" x2="400.8" y2="51.54" stroke="#333" stroke-width="1.6"/>
<text x="275" y="51.29" font-size="6.9" textLength="62.2" lengthAdjust="spacingAndGlyphs" fill="#231f20">Tcl-1 tg IRF4 ΔB/ΔB</text>
<text x="356.3" y="51.29" font-size="7" text-anchor="end" fill="#231f20">14</text>
<line x1="360" y1="38.91" x2="363.4" y2="38.91" stroke="#2a2a2a" stroke-width="1"/>
<rect x="363.4" y="58.95" width="55.4" height="9.65" fill="#6aab3f"/>
<line x1="418.8" y1="63.78" x2="435.5" y2="63.78" stroke="#3a3a3a" stroke-width="1.4"/>
<line x1="435.5" y1="61.03" x2="435.5" y2="66.53" stroke="#333" stroke-width="1.6"/>
<text x="275" y="66.28" font-size="6.9" textLength="27.2" lengthAdjust="spacingAndGlyphs" fill="#231f20">IRF4 +/+</text>
<text x="356.3" y="66.28" font-size="7" text-anchor="end" fill="#231f20">3</text>
<rect x="363.4" y="68.83" width="64.2" height="9.65" fill="#a5002c"/>
<line x1="427.6" y1="73.66" x2="441" y2="73.66" stroke="#3a3a3a" stroke-width="1.4"/>
<line x1="441" y1="70.91" x2="441" y2="76.41" stroke="#333" stroke-width="1.6"/>
<text x="275" y="76.16" font-size="6.9" textLength="54.1" lengthAdjust="spacingAndGlyphs" fill="#231f20">Tcl-1 tg IRF4 +/+</text>
<text x="356.3" y="76.16" font-size="7" text-anchor="end" fill="#231f20">8</text>
<rect x="363.4" y="78.71" width="40.4" height="9.65" fill="#2c4a7e"/>
<line x1="403.8" y1="83.54" x2="406.8" y2="83.54" stroke="#3a3a3a" stroke-width="1.4"/>
<line x1="406.8" y1="80.79" x2="406.8" y2="86.29" stroke="#333" stroke-width="1.6"/>
<text x="275" y="86.04" font-size="6.9" textLength="62.2" lengthAdjust="spacingAndGlyphs" fill="#231f20">Tcl-1 tg IRF4 ΔB/ΔB</text>
<text x="356.3" y="86.04" font-size="7" text-anchor="end" fill="#231f20">14</text>
<line x1="360" y1="73.66" x2="363.4" y2="73.66" stroke="#2a2a2a" stroke-width="1"/>
<rect x="363.4" y="93.7" width="42" height="9.65" fill="#6aab3f"/>
<line x1="405.4" y1="98.53" x2="408.2" y2="98.53" stroke="#3a3a3a" stroke-width="1.4"/>
<line x1="408.2" y1="95.78" x2="408.2" y2="101.28" stroke="#333" stroke-width="1.6"/>
<text x="275" y="101.03" font-size="6.9" textLength="27.2" lengthAdjust="spacingAndGlyphs" fill="#231f20">IRF4 +/+</text>
<text x="356.3" y="101.03" font-size="7" text-anchor="end" fill="#231f20">3</text>
<rect x="363.4" y="103.58" width="34" height="9.65" fill="#a5002c"/>
<line x1="397.4" y1="108.41" x2="400.5" y2="108.41" stroke="#3a3a3a" stroke-width="1.4"/>
<line x1="400.5" y1="105.66" x2="400.5" y2="111.16" stroke="#333" stroke-width="1.6"/>
<text x="275" y="110.91" font-size="6.9" textLength="54.1" lengthAdjust="spacingAndGlyphs" fill="#231f20">Tcl-1 tg IRF4 +/+</text>
<text x="356.3" y="110.91" font-size="7" text-anchor="end" fill="#231f20">7</text>
<rect x="363.4" y="113.46" width="45.1" height="9.65" fill="#2c4a7e"/>
<line x1="408.5" y1="118.29" x2="415.7" y2="118.29" stroke="#3a3a3a" stroke-width="1.4"/>
<line x1="415.7" y1="115.54" x2="415.7" y2="121.04" stroke="#333" stroke-width="1.6"/>
<text x="275" y="120.79" font-size="6.9" textLength="62.2" lengthAdjust="spacingAndGlyphs" fill="#231f20">Tcl-1 tg IRF4 ΔB/ΔB</text>
<text x="356.3" y="120.79" font-size="7" text-anchor="end" fill="#231f20">14</text>
<line x1="360" y1="108.41" x2="363.4" y2="108.41" stroke="#2a2a2a" stroke-width="1"/>
<rect x="363.4" y="128.45" width="40.1" height="9.65" fill="#6aab3f"/>
<line x1="403.5" y1="133.27" x2="406.5" y2="133.27" stroke="#3a3a3a" stroke-width="1.4"/>
<line x1="406.5" y1="130.52" x2="406.5" y2="136.02" stroke="#333" stroke-width="1.6"/>
<text x="275" y="135.77" font-size="6.9" textLength="27.2" lengthAdjust="spacingAndGlyphs" fill="#231f20">IRF4 +/+</text>
<text x="356.3" y="135.77" font-size="7" text-anchor="end" fill="#231f20">3</text>
<rect x="363.4" y="138.33" width="37.4" height="9.65" fill="#a5002c"/>
<line x1="400.8" y1="143.15" x2="402.8" y2="143.15" stroke="#3a3a3a" stroke-width="1.4"/>
<line x1="402.8" y1="140.4" x2="402.8" y2="145.9" stroke="#333" stroke-width="1.6"/>
<text x="275" y="145.65" font-size="6.9" textLength="54.1" lengthAdjust="spacingAndGlyphs" fill="#231f20">Tcl-1 tg IRF4 +/+</text>
<text x="356.3" y="145.65" font-size="7" text-anchor="end" fill="#231f20">7</text>
<rect x="363.4" y="148.21" width="41.5" height="9.65" fill="#2c4a7e"/>
<line x1="404.9" y1="153.03" x2="411.8" y2="153.03" stroke="#3a3a3a" stroke-width="1.4"/>
<line x1="411.8" y1="150.28" x2="411.8" y2="155.78" stroke="#333" stroke-width="1.6"/>
<text x="275" y="155.53" font-size="6.9" textLength="62.2" lengthAdjust="spacingAndGlyphs" fill="#231f20">Tcl-1 tg IRF4 ΔB/ΔB</text>
<text x="356.3" y="155.53" font-size="7" text-anchor="end" fill="#231f20">14</text>
<line x1="360" y1="143.15" x2="363.4" y2="143.15" stroke="#2a2a2a" stroke-width="1"/>
<line x1="397.5" y1="20.4" x2="397.5" y2="160.2" stroke="#000" stroke-width="1.05" stroke-dasharray="1.1 1.1"/>
<line x1="363.4" y1="21.2" x2="363.4" y2="160.8" stroke="#2a2a2a" stroke-width="1.3"/>
<line x1="362.8" y1="160.2" x2="503" y2="160.2" stroke="#2a2a2a" stroke-width="1.3"/>
<line x1="363.2" y1="160.2" x2="363.2" y2="163.2" stroke="#2a2a2a" stroke-width="1"/>
<text x="363.2" y="173" font-size="6.8" text-anchor="middle" fill="#231f20">0</text>
<line x1="397.65" y1="160.2" x2="397.65" y2="163.2" stroke="#2a2a2a" stroke-width="1"/>
<text x="397.65" y="173" font-size="6.8" text-anchor="middle" fill="#231f20">1</text>
<line x1="432.1" y1="160.2" x2="432.1" y2="163.2" stroke="#2a2a2a" stroke-width="1"/>
<text x="432.1" y="173" font-size="6.8" text-anchor="middle" fill="#231f20">2</text>
<line x1="466.55" y1="160.2" x2="466.55" y2="163.2" stroke="#2a2a2a" stroke-width="1"/>
<text x="466.55" y="173" font-size="6.8" text-anchor="middle" fill="#231f20">3</text>
<line x1="501" y1="160.2" x2="501" y2="163.2" stroke="#2a2a2a" stroke-width="1"/>
<text x="501" y="173" font-size="6.8" text-anchor="middle" fill="#231f20">4</text>
<text x="433" y="186" font-size="8.8" text-anchor="middle" textLength="17" lengthAdjust="spacingAndGlyphs" fill="#231f20">MFIR</text>
<line x1="248.6" y1="25.9" x2="248.6" y2="86.2" stroke="#2a2a2a" stroke-width="1.1"/>
<text x="241" y="56.05" font-size="7" text-anchor="middle" fill="#231f20" transform="rotate(-90 241 56.05)">CD28</text>
<line x1="248.6" y1="95.4" x2="248.6" y2="156.1" stroke="#2a2a2a" stroke-width="1.1"/>
<text x="241" y="125.75" font-size="7" text-anchor="middle" fill="#231f20" transform="rotate(-90 241 125.75)">CTLA4</text>
<line x1="268.5" y1="26.3" x2="268.5" y2="51.8" stroke="#2a2a2a" stroke-width="1.1"/>
<text x="261" y="39.05" font-size="7" text-anchor="middle" fill="#231f20" transform="rotate(-90 261 39.05)">CD4</text>
<line x1="268.5" y1="61" x2="268.5" y2="86.6" stroke="#2a2a2a" stroke-width="1.1"/>
<text x="261" y="73.8" font-size="7" text-anchor="middle" fill="#231f20" transform="rotate(-90 261 73.8)">CD8</text>
<line x1="268.5" y1="95.4" x2="268.5" y2="121.3" stroke="#2a2a2a" stroke-width="1.1"/>
<text x="261" y="108.35" font-size="7" text-anchor="middle" fill="#231f20" transform="rotate(-90 261 108.35)">CD4</text>
<line x1="268.5" y1="130.5" x2="268.5" y2="156.1" stroke="#2a2a2a" stroke-width="1.1"/>
<text x="261" y="143.3" font-size="7" text-anchor="middle" fill="#231f20" transform="rotate(-90 261 143.3)">CD8</text>
<text x="488.9" y="43.2" font-size="5.7" text-anchor="middle" textLength="21.9" lengthAdjust="spacingAndGlyphs" fill="#231f20" transform="rotate(90 488.9 43.2)">P = 0.23</text>
<line x1="483.5" y1="38.8" x2="483.5" y2="48.5" stroke="#2a2a2a" stroke-width="1.3"/>
<text x="488.9" y="78.8" font-size="5.7" text-anchor="middle" textLength="22.4" lengthAdjust="spacingAndGlyphs" fill="#231f20" transform="rotate(90 488.9 78.8)">P = 0.03</text>
<line x1="483.5" y1="73.8" x2="483.5" y2="83.5" stroke="#2a2a2a" stroke-width="1.3"/>
<circle cx="477.2" cy="78.5" r="0.9" fill="#222"/>
<text x="223.8" y="213.4" font-size="13.2" font-weight="bold" fill="#000" stroke="#000" stroke-width="0.45">F</text>
<text x="433.3" y="211.2" font-size="10.4" text-anchor="middle" textLength="17.2" lengthAdjust="spacingAndGlyphs" fill="#231f20">LNp</text>
<rect x="363.4" y="219.2" width="71.4" height="9.65" fill="#6aab3f"/>
<line x1="434.8" y1="224.02" x2="468.4" y2="224.02" stroke="#3a3a3a" stroke-width="1.4"/>
<line x1="468.4" y1="221.27" x2="468.4" y2="226.77" stroke="#333" stroke-width="1.6"/>
<text x="275" y="226.52" font-size="6.9" textLength="27.2" lengthAdjust="spacingAndGlyphs" fill="#231f20">IRF4 +/+</text>
<text x="356.3" y="226.52" font-size="7" text-anchor="end" fill="#231f20">3</text>
<rect x="363.4" y="229.08" width="53.4" height="9.65" fill="#a5002c"/>
<line x1="416.8" y1="233.9" x2="425.6" y2="233.9" stroke="#3a3a3a" stroke-width="1.4"/>
<line x1="425.6" y1="231.15" x2="425.6" y2="236.65" stroke="#333" stroke-width="1.6"/>
<text x="275" y="236.4" font-size="6.9" textLength="54.1" lengthAdjust="spacingAndGlyphs" fill="#231f20">Tcl-1 tg IRF4 +/+</text>
<text x="356.3" y="236.4" font-size="7" text-anchor="end" fill="#231f20">7</text>
<rect x="363.4" y="238.96" width="31.2" height="9.65" fill="#2c4a7e"/>
<line x1="394.6" y1="243.78" x2="396.2" y2="243.78" stroke="#3a3a3a" stroke-width="1.4"/>
<line x1="396.2" y1="241.03" x2="396.2" y2="246.53" stroke="#333" stroke-width="1.6"/>
<text x="275" y="246.28" font-size="6.9" textLength="62.2" lengthAdjust="spacingAndGlyphs" fill="#231f20">Tcl-1 tg IRF4 ΔB/ΔB</text>
<text x="356.3" y="246.28" font-size="7" text-anchor="end" fill="#231f20">12</text>
<line x1="360" y1="233.9" x2="363.4" y2="233.9" stroke="#2a2a2a" stroke-width="1"/>
<rect x="363.4" y="253.95" width="52.1" height="9.65" fill="#6aab3f"/>
<line x1="415.5" y1="258.77" x2="430.8" y2="258.77" stroke="#3a3a3a" stroke-width="1.4"/>
<line x1="430.8" y1="256.02" x2="430.8" y2="261.52" stroke="#333" stroke-width="1.6"/>
<text x="275" y="261.27" font-size="6.9" textLength="27.2" lengthAdjust="spacingAndGlyphs" fill="#231f20">IRF4 +/+</text>
<text x="356.3" y="261.27" font-size="7" text-anchor="end" fill="#231f20">3</text>
<rect x="363.4" y="263.83" width="67.4" height="9.65" fill="#a5002c"/>
<line x1="430.8" y1="268.65" x2="451.4" y2="268.65" stroke="#3a3a3a" stroke-width="1.4"/>
<line x1="451.4" y1="265.9" x2="451.4" y2="271.4" stroke="#333" stroke-width="1.6"/>
<text x="275" y="271.15" font-size="6.9" textLength="54.1" lengthAdjust="spacingAndGlyphs" fill="#231f20">Tcl-1 tg IRF4 +/+</text>
<text x="356.3" y="271.15" font-size="7" text-anchor="end" fill="#231f20">7</text>
<rect x="363.4" y="273.71" width="35.8" height="9.65" fill="#2c4a7e"/>
<line x1="399.2" y1="278.53" x2="401.1" y2="278.53" stroke="#3a3a3a" stroke-width="1.4"/>
<line x1="401.1" y1="275.78" x2="401.1" y2="281.28" stroke="#333" stroke-width="1.6"/>
<text x="275" y="281.03" font-size="6.9" textLength="62.2" lengthAdjust="spacingAndGlyphs" fill="#231f20">Tcl-1 tg IRF4 ΔB/ΔB</text>
<text x="356.3" y="281.03" font-size="7" text-anchor="end" fill="#231f20">12</text>
<line x1="360" y1="268.65" x2="363.4" y2="268.65" stroke="#2a2a2a" stroke-width="1"/>
<rect x="363.4" y="288.7" width="39" height="9.65" fill="#6aab3f"/>
<line x1="402.4" y1="293.52" x2="408" y2="293.52" stroke="#3a3a3a" stroke-width="1.4"/>
<line x1="408" y1="290.77" x2="408" y2="296.27" stroke="#333" stroke-width="1.6"/>
<text x="275" y="296.02" font-size="6.9" textLength="27.2" lengthAdjust="spacingAndGlyphs" fill="#231f20">IRF4 +/+</text>
<text x="356.3" y="296.02" font-size="7" text-anchor="end" fill="#231f20">3</text>
<rect x="363.4" y="298.58" width="34.4" height="9.65" fill="#a5002c"/>
<line x1="397.8" y1="303.4" x2="405.4" y2="303.4" stroke="#3a3a3a" stroke-width="1.4"/>
<line x1="405.4" y1="300.65" x2="405.4" y2="306.15" stroke="#333" stroke-width="1.6"/>
<text x="275" y="305.9" font-size="6.9" textLength="54.1" lengthAdjust="spacingAndGlyphs" fill="#231f20">Tcl-1 tg IRF4 +/+</text>
<text x="356.3" y="305.9" font-size="7" text-anchor="end" fill="#231f20">7</text>
<rect x="363.4" y="308.46" width="39.3" height="9.65" fill="#2c4a7e"/>
<line x1="402.7" y1="313.28" x2="409.6" y2="313.28" stroke="#3a3a3a" stroke-width="1.4"/>
<line x1="409.6" y1="310.53" x2="409.6" y2="316.03" stroke="#333" stroke-width="1.6"/>
<text x="275" y="315.78" font-size="6.9" textLength="62.2" lengthAdjust="spacingAndGlyphs" fill="#231f20">Tcl-1 tg IRF4 ΔB/ΔB</text>
<text x="356.3" y="315.78" font-size="7" text-anchor="end" fill="#231f20">12</text>
<line x1="360" y1="303.4" x2="363.4" y2="303.4" stroke="#2a2a2a" stroke-width="1"/>
<rect x="363.4" y="323.45" width="41.3" height="9.65" fill="#6aab3f"/>
<line x1="404.7" y1="328.27" x2="413.5" y2="328.27" stroke="#3a3a3a" stroke-width="1.4"/>
<line x1="413.5" y1="325.52" x2="413.5" y2="331.02" stroke="#333" stroke-width="1.6"/>
<text x="275" y="330.77" font-size="6.9" textLength="27.2" lengthAdjust="spacingAndGlyphs" fill="#231f20">IRF4 +/+</text>
<text x="356.3" y="330.77" font-size="7" text-anchor="end" fill="#231f20">3</text>
<rect x="363.4" y="333.33" width="38.7" height="9.65" fill="#a5002c"/>
<line x1="402.1" y1="338.15" x2="410.3" y2="338.15" stroke="#3a3a3a" stroke-width="1.4"/>
<line x1="410.3" y1="335.4" x2="410.3" y2="340.9" stroke="#333" stroke-width="1.6"/>
<text x="275" y="340.65" font-size="6.9" textLength="54.1" lengthAdjust="spacingAndGlyphs" fill="#231f20">Tcl-1 tg IRF4 +/+</text>
<text x="356.3" y="340.65" font-size="7" text-anchor="end" fill="#231f20">7</text>
<rect x="363.4" y="343.21" width="38" height="9.65" fill="#2c4a7e"/>
<line x1="401.4" y1="348.03" x2="407" y2="348.03" stroke="#3a3a3a" stroke-width="1.4"/>
<line x1="407" y1="345.28" x2="407" y2="350.78" stroke="#333" stroke-width="1.6"/>
<text x="275" y="350.53" font-size="6.9" textLength="62.2" lengthAdjust="spacingAndGlyphs" fill="#231f20">Tcl-1 tg IRF4 ΔB/ΔB</text>
<text x="356.3" y="350.53" font-size="7" text-anchor="end" fill="#231f20">12</text>
<line x1="360" y1="338.15" x2="363.4" y2="338.15" stroke="#2a2a2a" stroke-width="1"/>
<line x1="390.7" y1="215.4" x2="390.7" y2="355.5" stroke="#000" stroke-width="1.05" stroke-dasharray="1.1 1.1"/>
<line x1="363.4" y1="216.2" x2="363.4" y2="356.1" stroke="#2a2a2a" stroke-width="1.3"/>
<line x1="362.8" y1="355.5" x2="503" y2="355.5" stroke="#2a2a2a" stroke-width="1.3"/>
<line x1="363.2" y1="355.5" x2="363.2" y2="358.5" stroke="#2a2a2a" stroke-width="1"/>
<text x="363.2" y="368" font-size="6.8" text-anchor="middle" fill="#231f20">0</text>
<line x1="390.75" y1="355.5" x2="390.75" y2="358.5" stroke="#2a2a2a" stroke-width="1"/>
<text x="390.75" y="368" font-size="6.8" text-anchor="middle" fill="#231f20">1</text>
<line x1="418.3" y1="355.5" x2="418.3" y2="358.5" stroke="#2a2a2a" stroke-width="1"/>
<text x="418.3" y="368" font-size="6.8" text-anchor="middle" fill="#231f20">2</text>
<line x1="445.85" y1="355.5" x2="445.85" y2="358.5" stroke="#2a2a2a" stroke-width="1"/>
<text x="445.85" y="368" font-size="6.8" text-anchor="middle" fill="#231f20">3</text>
<line x1="473.4" y1="355.5" x2="473.4" y2="358.5" stroke="#2a2a2a" stroke-width="1"/>
<text x="473.4" y="368" font-size="6.8" text-anchor="middle" fill="#231f20">4</text>
<line x1="500.95" y1="355.5" x2="500.95" y2="358.5" stroke="#2a2a2a" stroke-width="1"/>
<text x="500.95" y="368" font-size="6.8" text-anchor="middle" fill="#231f20">5</text>
<text x="433" y="381" font-size="8.8" text-anchor="middle" textLength="17" lengthAdjust="spacingAndGlyphs" fill="#231f20">MFIR</text>
<line x1="248.6" y1="220.9" x2="248.6" y2="281.2" stroke="#2a2a2a" stroke-width="1.1"/>
<text x="241" y="251.05" font-size="7" text-anchor="middle" fill="#231f20" transform="rotate(-90 241 251.05)">CD28</text>
<line x1="248.6" y1="290.4" x2="248.6" y2="351.1" stroke="#2a2a2a" stroke-width="1.1"/>
<text x="241" y="320.75" font-size="7" text-anchor="middle" fill="#231f20" transform="rotate(-90 241 320.75)">CTLA4</text>
<line x1="268.5" y1="221.3" x2="268.5" y2="246.8" stroke="#2a2a2a" stroke-width="1.1"/>
<text x="261" y="234.05" font-size="7" text-anchor="middle" fill="#231f20" transform="rotate(-90 261 234.05)">CD4</text>
<line x1="268.5" y1="256" x2="268.5" y2="281.6" stroke="#2a2a2a" stroke-width="1.1"/>
<text x="261" y="268.8" font-size="7" text-anchor="middle" fill="#231f20" transform="rotate(-90 261 268.8)">CD8</text>
<line x1="268.5" y1="290.4" x2="268.5" y2="316.3" stroke="#2a2a2a" stroke-width="1.1"/>
<text x="261" y="303.35" font-size="7" text-anchor="middle" fill="#231f20" transform="rotate(-90 261 303.35)">CD4</text>
<line x1="268.5" y1="325.5" x2="268.5" y2="351.1" stroke="#2a2a2a" stroke-width="1.1"/>
<text x="261" y="338.3" font-size="7" text-anchor="middle" fill="#231f20" transform="rotate(-90 261 338.3)">CD8</text>
<text x="490" y="239.4" font-size="5.7" text-anchor="middle" textLength="26.2" lengthAdjust="spacingAndGlyphs" fill="#231f20" transform="rotate(90 490 239.4)">P = 0.004</text>
<line x1="483.8" y1="234.5" x2="483.8" y2="243.7" stroke="#2a2a2a" stroke-width="1.3"/>
<circle cx="478.9" cy="238.03" r="0.9" fill="#222"/>
<circle cx="478.9" cy="240.78" r="0.9" fill="#222"/>
<text x="490" y="272.9" font-size="5.7" text-anchor="middle" textLength="21.2" lengthAdjust="spacingAndGlyphs" fill="#231f20" transform="rotate(90 490 272.9)">P = 0.05</text>
<line x1="483.8" y1="269.8" x2="483.8" y2="278.6" stroke="#2a2a2a" stroke-width="1.3"/>
<circle cx="478.9" cy="273.7" r="0.9" fill="#222"/>
<text x="223.8" y="406" font-size="13.2" font-weight="bold" fill="#000" stroke="#000" stroke-width="0.45">G</text>
<text x="433.4" y="402.7" font-size="10.4" text-anchor="middle" textLength="29" lengthAdjust="spacingAndGlyphs" fill="#231f20">Spleen</text>
<rect x="363.4" y="412.9" width="13.8" height="12.9" fill="#6aab3f"/>
<line x1="377.2" y1="419.35" x2="380.2" y2="419.35" stroke="#3a3a3a" stroke-width="1.4"/>
<line x1="380.2" y1="416" x2="380.2" y2="422.7" stroke="#333" stroke-width="1.6"/>
<text x="275" y="421.85" font-size="6.9" textLength="27.2" lengthAdjust="spacingAndGlyphs" fill="#231f20">IRF4 +/+</text>
<text x="356.3" y="421.85" font-size="7" text-anchor="end" fill="#231f20">5</text>
<rect x="363.4" y="426.2" width="31" height="12.9" fill="#a5002c"/>
<line x1="394.4" y1="432.65" x2="400.5" y2="432.65" stroke="#3a3a3a" stroke-width="1.4"/>
<line x1="400.5" y1="429.3" x2="400.5" y2="436" stroke="#333" stroke-width="1.6"/>
<text x="275" y="435.15" font-size="6.9" textLength="54.1" lengthAdjust="spacingAndGlyphs" fill="#231f20">Tcl-1 tg IRF4 +/+</text>
<text x="356.3" y="435.15" font-size="7" text-anchor="end" fill="#231f20">16</text>
<rect x="363.4" y="439.5" width="18.4" height="12.9" fill="#2c4a7e"/>
<line x1="381.8" y1="445.95" x2="384.8" y2="445.95" stroke="#3a3a3a" stroke-width="1.4"/>
<line x1="384.8" y1="442.6" x2="384.8" y2="449.3" stroke="#333" stroke-width="1.6"/>
<text x="275" y="448.45" font-size="6.9" textLength="62.2" lengthAdjust="spacingAndGlyphs" fill="#231f20">Tcl-1 tg IRF4 ΔB/ΔB</text>
<text x="356.3" y="448.45" font-size="7" text-anchor="end" fill="#231f20">20</text>
<line x1="360" y1="432.65" x2="363.4" y2="432.65" stroke="#2a2a2a" stroke-width="1"/>
<rect x="363.4" y="459.6" width="57.8" height="12.9" fill="#6aab3f"/>
<line x1="421.2" y1="466.05" x2="432.2" y2="466.05" stroke="#3a3a3a" stroke-width="1.4"/>
<line x1="432.2" y1="462.7" x2="432.2" y2="469.4" stroke="#333" stroke-width="1.6"/>
<text x="275" y="468.55" font-size="6.9" textLength="27.2" lengthAdjust="spacingAndGlyphs" fill="#231f20">IRF4 +/+</text>
<text x="356.3" y="468.55" font-size="7" text-anchor="end" fill="#231f20">3</text>
<rect x="363.4" y="472.9" width="105.1" height="12.9" fill="#a5002c"/>
<line x1="468.5" y1="479.35" x2="480.5" y2="479.35" stroke="#3a3a3a" stroke-width="1.4"/>
<line x1="480.5" y1="476" x2="480.5" y2="482.7" stroke="#333" stroke-width="1.6"/>
<text x="275" y="481.85" font-size="6.9" textLength="54.1" lengthAdjust="spacingAndGlyphs" fill="#231f20">Tcl-1 tg IRF4 +/+</text>
<text x="356.3" y="481.85" font-size="7" text-anchor="end" fill="#231f20">7</text>
<rect x="363.4" y="486.2" width="47.9" height="12.9" fill="#2c4a7e"/>
<line x1="411.3" y1="492.65" x2="415.3" y2="492.65" stroke="#3a3a3a" stroke-width="1.4"/>
<line x1="415.3" y1="489.3" x2="415.3" y2="496" stroke="#333" stroke-width="1.6"/>
<text x="275" y="495.15" font-size="6.9" textLength="62.2" lengthAdjust="spacingAndGlyphs" fill="#231f20">Tcl-1 tg IRF4 ΔB/ΔB</text>
<text x="356.3" y="495.15" font-size="7" text-anchor="end" fill="#231f20">13</text>
<line x1="360" y1="479.35" x2="363.4" y2="479.35" stroke="#2a2a2a" stroke-width="1"/>
<rect x="363.4" y="505.9" width="23.3" height="12.9" fill="#6aab3f"/>
<line x1="386.7" y1="512.35" x2="391.3" y2="512.35" stroke="#3a3a3a" stroke-width="1.4"/>
<line x1="391.3" y1="509" x2="391.3" y2="515.7" stroke="#333" stroke-width="1.6"/>
<text x="275" y="514.85" font-size="6.9" textLength="27.2" lengthAdjust="spacingAndGlyphs" fill="#231f20">IRF4 +/+</text>
<text x="356.3" y="514.85" font-size="7" text-anchor="end" fill="#231f20">3</text>
<rect x="363.4" y="519.2" width="59.9" height="12.9" fill="#a5002c"/>
<line x1="423.3" y1="525.65" x2="442.7" y2="525.65" stroke="#3a3a3a" stroke-width="1.4"/>
<line x1="442.7" y1="522.3" x2="442.7" y2="529" stroke="#333" stroke-width="1.6"/>
<text x="275" y="528.15" font-size="6.9" textLength="54.1" lengthAdjust="spacingAndGlyphs" fill="#231f20">Tcl-1 tg IRF4 +/+</text>
<text x="356.3" y="528.15" font-size="7" text-anchor="end" fill="#231f20">7</text>
<rect x="363.4" y="532.5" width="22.7" height="12.9" fill="#2c4a7e"/>
<line x1="386.1" y1="538.95" x2="390.4" y2="538.95" stroke="#3a3a3a" stroke-width="1.4"/>
<line x1="390.4" y1="535.6" x2="390.4" y2="542.3" stroke="#333" stroke-width="1.6"/>
<text x="275" y="541.45" font-size="6.9" textLength="62.2" lengthAdjust="spacingAndGlyphs" fill="#231f20">Tcl-1 tg IRF4 ΔB/ΔB</text>
<text x="356.3" y="541.45" font-size="7" text-anchor="end" fill="#231f20">13</text>
<line x1="360" y1="525.65" x2="363.4" y2="525.65" stroke="#2a2a2a" stroke-width="1"/>
<line x1="364.6" y1="406.9" x2="364.6" y2="547.2" stroke="#000" stroke-width="1.05" stroke-dasharray="1.1 1.1"/>
<line x1="363.4" y1="407.7" x2="363.4" y2="547.8" stroke="#2a2a2a" stroke-width="1.3"/>
<line x1="362.8" y1="547.2" x2="500" y2="547.2" stroke="#2a2a2a" stroke-width="1.3"/>
<line x1="363.3" y1="547.2" x2="363.3" y2="550.2" stroke="#2a2a2a" stroke-width="1"/>
<text x="363.3" y="560.2" font-size="6.8" text-anchor="middle" fill="#231f20">0</text>
<line x1="396.5" y1="547.2" x2="396.5" y2="550.2" stroke="#2a2a2a" stroke-width="1"/>
<text x="396.5" y="560.2" font-size="6.8" text-anchor="middle" fill="#231f20">20</text>
<line x1="429.7" y1="547.2" x2="429.7" y2="550.2" stroke="#2a2a2a" stroke-width="1"/>
<text x="429.7" y="560.2" font-size="6.8" text-anchor="middle" fill="#231f20">40</text>
<line x1="462.9" y1="547.2" x2="462.9" y2="550.2" stroke="#2a2a2a" stroke-width="1"/>
<text x="462.9" y="560.2" font-size="6.8" text-anchor="middle" fill="#231f20">60</text>
<line x1="496.1" y1="547.2" x2="496.1" y2="550.2" stroke="#2a2a2a" stroke-width="1"/>
<text x="496.1" y="560.2" font-size="6.8" text-anchor="middle" fill="#231f20">80</text>
<text x="430.4" y="573" font-size="8.8" text-anchor="middle" textLength="78.5" lengthAdjust="spacingAndGlyphs" fill="#231f20">MFIR or % positive cells</text>
<line x1="248.6" y1="414.4" x2="248.6" y2="451.8" stroke="#2a2a2a" stroke-width="1.1"/>
<text x="241" y="433.1" font-size="7" text-anchor="middle" fill="#231f20" transform="rotate(-90 241 433.1)">PDL1 (MFIR)</text>
<line x1="248.6" y1="460.5" x2="248.6" y2="544.2" stroke="#2a2a2a" stroke-width="1.1"/>
<text x="241" y="502.35" font-size="7" text-anchor="middle" fill="#231f20" transform="rotate(-90 241 502.35)">PD1 (%)</text>
<line x1="268.5" y1="414.4" x2="268.5" y2="451.8" stroke="#2a2a2a" stroke-width="1.1"/>
<text x="261" y="433.1" font-size="7" text-anchor="middle" fill="#231f20" transform="rotate(-90 261 433.1)">CD19</text>
<line x1="268.5" y1="460.5" x2="268.5" y2="498.2" stroke="#2a2a2a" stroke-width="1.1"/>
<text x="261" y="479.35" font-size="7" text-anchor="middle" fill="#231f20" transform="rotate(-90 261 479.35)">CD4</text>
<line x1="268.5" y1="506.8" x2="268.5" y2="544.2" stroke="#2a2a2a" stroke-width="1.1"/>
<text x="261" y="525.5" font-size="7" text-anchor="middle" fill="#231f20" transform="rotate(-90 261 525.5)">CD8</text>
<text x="443.2" y="439.3" font-size="5.7" text-anchor="middle" textLength="24.7" lengthAdjust="spacingAndGlyphs" fill="#231f20" transform="rotate(90 443.2 439.3)">P = 0.009</text>
<line x1="437.5" y1="432.3" x2="437.5" y2="445.5" stroke="#2a2a2a" stroke-width="1.3"/>
<circle cx="431.9" cy="437.62" r="0.9" fill="#222"/>
<circle cx="431.9" cy="440.38" r="0.9" fill="#222"/>
<text x="502.8" y="485" font-size="5.7" text-anchor="middle" textLength="28.3" lengthAdjust="spacingAndGlyphs" fill="#231f20" transform="rotate(90 502.8 485)">P = 0.0001</text>
<line x1="497.2" y1="479.2" x2="497.2" y2="492.5" stroke="#2a2a2a" stroke-width="1.3"/>
<circle cx="491.3" cy="483.55" r="0.9" fill="#222"/>
<circle cx="491.3" cy="486.3" r="0.9" fill="#222"/>
<circle cx="491.3" cy="489.05" r="0.9" fill="#222"/>
<text x="460.1" y="531.8" font-size="5.7" text-anchor="middle" textLength="22.1" lengthAdjust="spacingAndGlyphs" fill="#231f20" transform="rotate(90 460.1 531.8)">P = 0.02</text>
<line x1="455" y1="525.4" x2="455" y2="538.6" stroke="#2a2a2a" stroke-width="1.3"/>
<circle cx="448.8" cy="532.5" r="0.9" fill="#222"/>
<text x="223.8" y="597.1" font-size="13.2" font-weight="bold" fill="#000" stroke="#000" stroke-width="0.45">H</text>
<text x="433.3" y="593.8" font-size="10.4" text-anchor="middle" textLength="17.2" lengthAdjust="spacingAndGlyphs" fill="#231f20">LNp</text>
<rect x="363.4" y="603.8" width="14.1" height="12.9" fill="#6aab3f"/>
<line x1="377.5" y1="610.25" x2="379.6" y2="610.25" stroke="#3a3a3a" stroke-width="1.4"/>
<line x1="379.6" y1="606.9" x2="379.6" y2="613.6" stroke="#333" stroke-width="1.6"/>
<text x="275" y="612.75" font-size="6.9" textLength="27.2" lengthAdjust="spacingAndGlyphs" fill="#231f20">IRF4 +/+</text>
<text x="356.3" y="612.75" font-size="7" text-anchor="end" fill="#231f20">3</text>
<rect x="363.4" y="617.1" width="40.8" height="12.9" fill="#a5002c"/>
<line x1="404.2" y1="623.55" x2="417.2" y2="623.55" stroke="#3a3a3a" stroke-width="1.4"/>
<line x1="417.2" y1="620.2" x2="417.2" y2="626.9" stroke="#333" stroke-width="1.6"/>
<text x="275" y="626.05" font-size="6.9" textLength="54.1" lengthAdjust="spacingAndGlyphs" fill="#231f20">Tcl-1 tg IRF4 +/+</text>
<text x="356.3" y="626.05" font-size="7" text-anchor="end" fill="#231f20">13</text>
<rect x="363.4" y="630.4" width="33.1" height="12.9" fill="#2c4a7e"/>
<line x1="396.5" y1="636.85" x2="401.2" y2="636.85" stroke="#3a3a3a" stroke-width="1.4"/>
<line x1="401.2" y1="633.5" x2="401.2" y2="640.2" stroke="#333" stroke-width="1.6"/>
<text x="275" y="639.35" font-size="6.9" textLength="62.2" lengthAdjust="spacingAndGlyphs" fill="#231f20">Tcl-1 tg IRF4 ΔB/ΔB</text>
<text x="356.3" y="639.35" font-size="7" text-anchor="end" fill="#231f20">17</text>
<line x1="360" y1="623.55" x2="363.4" y2="623.55" stroke="#2a2a2a" stroke-width="1"/>
<rect x="363.4" y="650" width="25.8" height="12.9" fill="#6aab3f"/>
<line x1="389.2" y1="656.45" x2="393.8" y2="656.45" stroke="#3a3a3a" stroke-width="1.4"/>
<line x1="393.8" y1="653.1" x2="393.8" y2="659.8" stroke="#333" stroke-width="1.6"/>
<text x="275" y="658.95" font-size="6.9" textLength="27.2" lengthAdjust="spacingAndGlyphs" fill="#231f20">IRF4 +/+</text>
<text x="356.3" y="658.95" font-size="7" text-anchor="end" fill="#231f20">3</text>
<rect x="363.4" y="663.3" width="101.4" height="12.9" fill="#a5002c"/>
<line x1="464.8" y1="669.75" x2="488.2" y2="669.75" stroke="#3a3a3a" stroke-width="1.4"/>
<line x1="488.2" y1="666.4" x2="488.2" y2="673.1" stroke="#333" stroke-width="1.6"/>
<text x="275" y="672.25" font-size="6.9" textLength="54.1" lengthAdjust="spacingAndGlyphs" fill="#231f20">Tcl-1 tg IRF4 +/+</text>
<text x="356.3" y="672.25" font-size="7" text-anchor="end" fill="#231f20">8</text>
<rect x="363.4" y="676.6" width="39.9" height="12.9" fill="#2c4a7e"/>
<line x1="403.3" y1="683.05" x2="410.4" y2="683.05" stroke="#3a3a3a" stroke-width="1.4"/>
<line x1="410.4" y1="679.7" x2="410.4" y2="686.4" stroke="#333" stroke-width="1.6"/>
<text x="275" y="685.55" font-size="6.9" textLength="62.2" lengthAdjust="spacingAndGlyphs" fill="#231f20">Tcl-1 tg IRF4 ΔB/ΔB</text>
<text x="356.3" y="685.55" font-size="7" text-anchor="end" fill="#231f20">14</text>
<line x1="360" y1="669.75" x2="363.4" y2="669.75" stroke="#2a2a2a" stroke-width="1"/>
<rect x="363.4" y="696.3" width="11.6" height="12.9" fill="#6aab3f"/>
<line x1="375" y1="702.75" x2="379" y2="702.75" stroke="#3a3a3a" stroke-width="1.4"/>
<line x1="379" y1="699.4" x2="379" y2="706.1" stroke="#333" stroke-width="1.6"/>
<text x="275" y="705.25" font-size="6.9" textLength="27.2" lengthAdjust="spacingAndGlyphs" fill="#231f20">IRF4 +/+</text>
<text x="356.3" y="705.25" font-size="7" text-anchor="end" fill="#231f20">3</text>
<rect x="363.4" y="709.6" width="67" height="12.9" fill="#a5002c"/>
<line x1="430.4" y1="716.05" x2="459.6" y2="716.05" stroke="#3a3a3a" stroke-width="1.4"/>
<line x1="459.6" y1="712.7" x2="459.6" y2="719.4" stroke="#333" stroke-width="1.6"/>
<text x="275" y="718.55" font-size="6.9" textLength="54.1" lengthAdjust="spacingAndGlyphs" fill="#231f20">Tcl-1 tg IRF4 +/+</text>
<text x="356.3" y="718.55" font-size="7" text-anchor="end" fill="#231f20">8</text>
<rect x="363.4" y="722.9" width="12.2" height="12.9" fill="#2c4a7e"/>
<line x1="375.6" y1="729.35" x2="377.2" y2="729.35" stroke="#3a3a3a" stroke-width="1.4"/>
<line x1="377.2" y1="726" x2="377.2" y2="732.7" stroke="#333" stroke-width="1.6"/>
<text x="275" y="731.85" font-size="6.9" textLength="62.2" lengthAdjust="spacingAndGlyphs" fill="#231f20">Tcl-1 tg IRF4 ΔB/ΔB</text>
<text x="356.3" y="731.85" font-size="7" text-anchor="end" fill="#231f20">14</text>
<line x1="360" y1="716.05" x2="363.4" y2="716.05" stroke="#2a2a2a" stroke-width="1"/>
<line x1="365.5" y1="597.5" x2="365.5" y2="737.8" stroke="#000" stroke-width="1.05" stroke-dasharray="1.1 1.1"/>
<line x1="363.4" y1="598.3" x2="363.4" y2="738.4" stroke="#2a2a2a" stroke-width="1.3"/>
<line x1="362.8" y1="737.8" x2="498.7" y2="737.8" stroke="#2a2a2a" stroke-width="1.3"/>
<line x1="363.3" y1="737.8" x2="363.3" y2="740.8" stroke="#2a2a2a" stroke-width="1"/>
<text x="363.3" y="751.4" font-size="6.8" text-anchor="middle" fill="#231f20">0</text>
<line x1="407.7" y1="737.8" x2="407.7" y2="740.8" stroke="#2a2a2a" stroke-width="1"/>
<text x="407.7" y="751.4" font-size="6.8" text-anchor="middle" fill="#231f20">20</text>
<line x1="452.1" y1="737.8" x2="452.1" y2="740.8" stroke="#2a2a2a" stroke-width="1"/>
<text x="452.1" y="751.4" font-size="6.8" text-anchor="middle" fill="#231f20">40</text>
<line x1="496.5" y1="737.8" x2="496.5" y2="740.8" stroke="#2a2a2a" stroke-width="1"/>
<text x="496.5" y="751.4" font-size="6.8" text-anchor="middle" fill="#231f20">60</text>
<text x="430.4" y="764" font-size="8.8" text-anchor="middle" textLength="78.5" lengthAdjust="spacingAndGlyphs" fill="#231f20">MFIR or % positive cells</text>
<line x1="248.6" y1="605.3" x2="248.6" y2="642.7" stroke="#2a2a2a" stroke-width="1.1"/>
<text x="241" y="624" font-size="7" text-anchor="middle" fill="#231f20" transform="rotate(-90 241 624)">PDL1 (MFIR)</text>
<line x1="248.6" y1="651.4" x2="248.6" y2="735.1" stroke="#2a2a2a" stroke-width="1.1"/>
<text x="241" y="693.25" font-size="7" text-anchor="middle" fill="#231f20" transform="rotate(-90 241 693.25)">PD1 (%)</text>
<line x1="268.5" y1="605.3" x2="268.5" y2="642.7" stroke="#2a2a2a" stroke-width="1.1"/>
<text x="261" y="624" font-size="7" text-anchor="middle" fill="#231f20" transform="rotate(-90 261 624)">CD19</text>
<line x1="268.5" y1="651.4" x2="268.5" y2="689.1" stroke="#2a2a2a" stroke-width="1.1"/>
<text x="261" y="670.25" font-size="7" text-anchor="middle" fill="#231f20" transform="rotate(-90 261 670.25)">CD4</text>
<line x1="268.5" y1="697.7" x2="268.5" y2="735.1" stroke="#2a2a2a" stroke-width="1.1"/>
<text x="261" y="716.4" font-size="7" text-anchor="middle" fill="#231f20" transform="rotate(-90 261 716.4)">CD8</text>
<text x="429.3" y="630.7" font-size="5.7" text-anchor="middle" textLength="23.1" lengthAdjust="spacingAndGlyphs" fill="#231f20" transform="rotate(90 429.3 630.7)">P = 0.81</text>
<line x1="424.2" y1="623.2" x2="424.2" y2="636.8" stroke="#2a2a2a" stroke-width="1.3"/>
<text x="506.8" y="676.9" font-size="5.7" text-anchor="middle" textLength="27.8" lengthAdjust="spacingAndGlyphs" fill="#231f20" transform="rotate(90 506.8 676.9)">P = 0.006</text>
<line x1="502.1" y1="670.2" x2="502.1" y2="683.1" stroke="#2a2a2a" stroke-width="1.3"/>
<circle cx="495.9" cy="675.52" r="0.9" fill="#222"/>
<circle cx="495.9" cy="678.27" r="0.9" fill="#222"/>
<text x="473.9" y="717.7" font-size="5.7" text-anchor="middle" textLength="26.2" lengthAdjust="spacingAndGlyphs" fill="#231f20" transform="rotate(90 473.9 717.7)">P = 0.019</text>
<line x1="468.8" y1="716.3" x2="468.8" y2="729.2" stroke="#2a2a2a" stroke-width="1.3"/>
<circle cx="462.7" cy="722.5" r="0.9" fill="#222"/>
<line x1="0" y1="0.6" x2="520" y2="0.6" stroke="#000" stroke-width="1.3"/>
<line x1="0.6" y1="0" x2="0.6" y2="775" stroke="#000" stroke-width="1.3"/>
<line x1="519.35" y1="0" x2="519.35" y2="775" stroke="#000" stroke-width="1.3"/>
<line x1="0" y1="774.1" x2="520" y2="774.1" stroke="#000" stroke-width="1.9"/>
</svg>
</body></html>
